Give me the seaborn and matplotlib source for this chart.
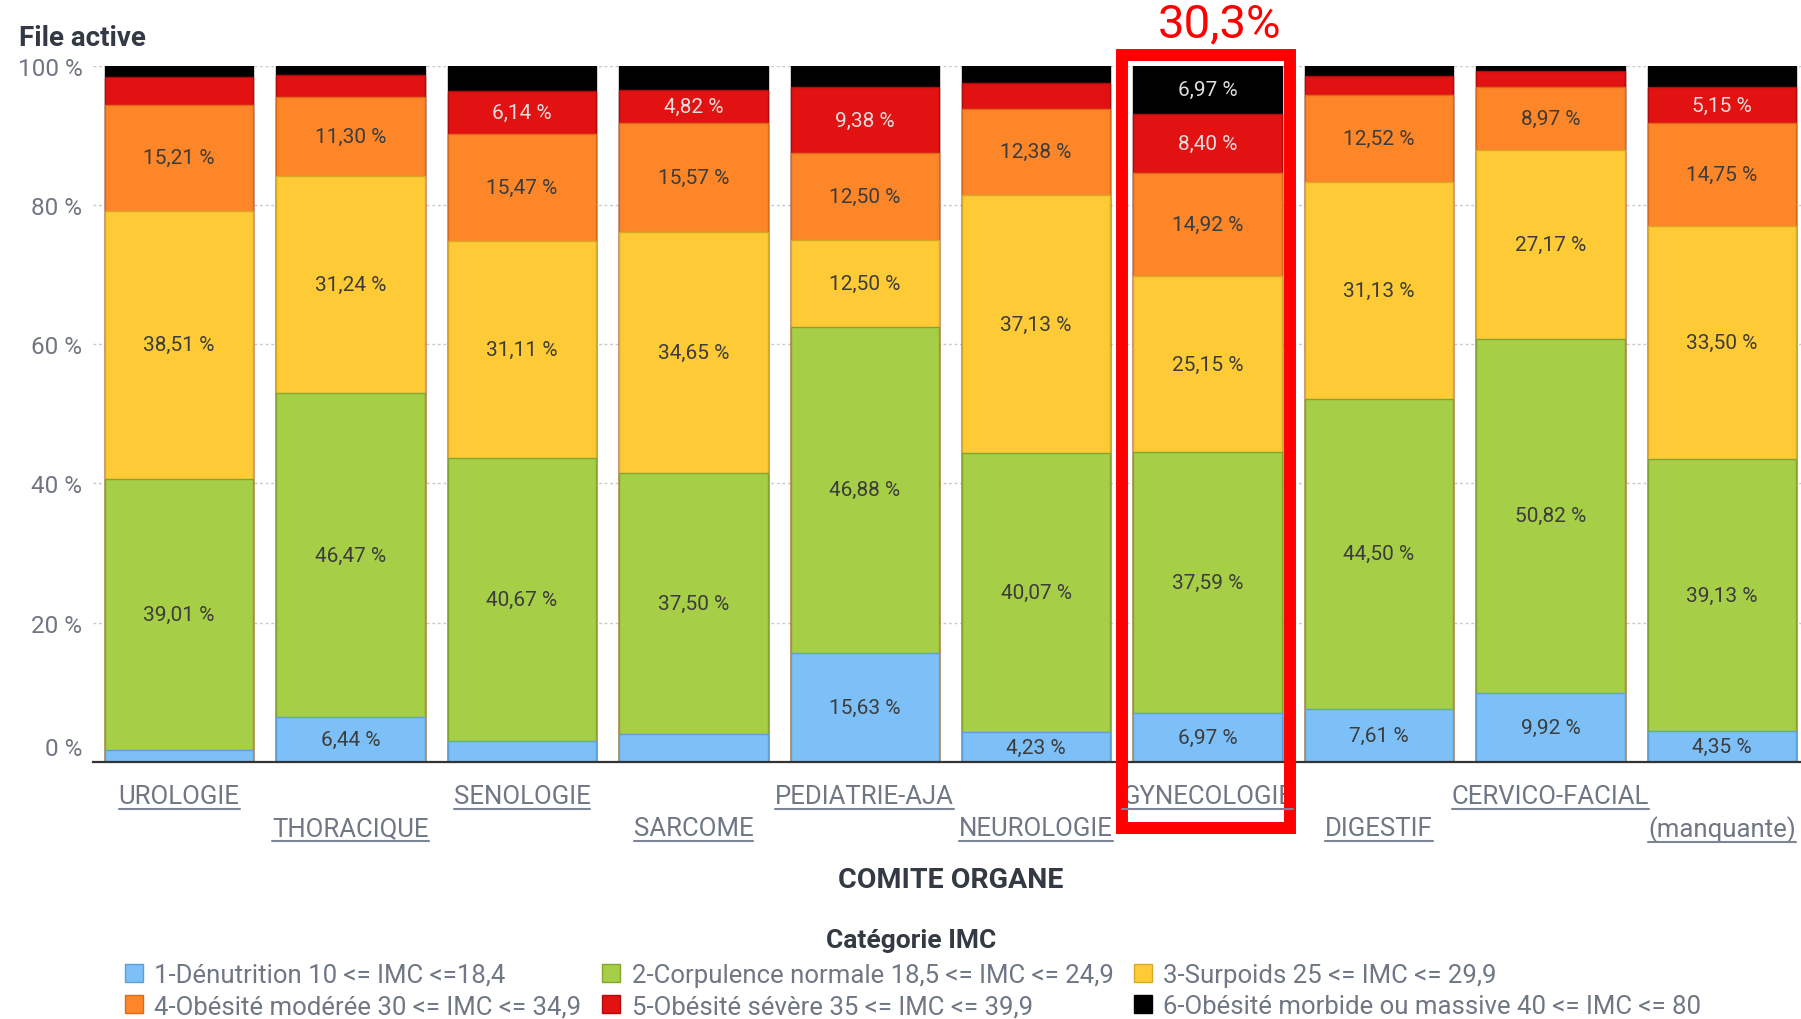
import numpy as np
import pandas as pd
import seaborn as sns
import matplotlib.pyplot as plt
from matplotlib.patches import Patch, Rectangle
from matplotlib.lines import Line2D
from matplotlib.transforms import IdentityTransform, ScaledTranslation

# Values (% of patients per BMI category, per organ committee)
categories = ["UROLOGIE", "THORACIQUE", "SENOLOGIE", "SARCOME", "PEDIATRIE-AJA",
              "NEUROLOGIE", "GYNECOLOGIE", "DIGESTIF", "CERVICO-FACIAL", "(manquante)"]
denutrition = [1.63, 6.44, 2.99, 3.98, 15.63, 4.23, 6.97, 7.61, 9.92, 4.35]
corpulence = [39.01, 46.47, 40.67, 37.50, 46.88, 40.07, 37.59, 44.50, 50.82, 39.13]
surpoids = [38.51, 31.24, 31.11, 34.65, 12.50, 37.13, 25.15, 31.13, 27.17, 33.50]
obesite_moderee = [15.21, 11.30, 15.47, 15.57, 12.50, 12.38, 14.92, 12.52, 8.97, 14.75]
obesite_severe = [3.97, 3.25, 6.14, 4.82, 9.38, 3.75, 8.40, 2.74, 2.31, 5.15]
obesite_morbide = [1.67, 1.30, 3.62, 3.48, 3.12, 2.44, 6.97, 1.50, 0.81, 3.12]

legend_labels = ["1-Dénutrition 10 <= IMC <=18,4",
                 "2-Corpulence normale 18,5 <= IMC <= 24,9",
                 "3-Surpoids 25 <= IMC <= 29,9",
                 "4-Obésité modérée 30 <= IMC <= 34,9",
                 "5-Obésité sévère 35 <= IMC <= 39,9",
                 "6-Obésité morbide ou massive 40 <= IMC <= 80"]
fills = ["#7dc0f8", "#a6ce47", "#fecb36", "#fd8628", "#e31212", "#000000"]
edges = ["#5d9fd8", "#80a630", "#d8a827", "#d86a1a", "#b00c0c", "#000000"]
text_cols = ["#3c3c3c", "#3c3c3c", "#3c3c3c", "#3c3c3c", "#dedede", "#dedede"]

series = [denutrition, corpulence, surpoids, obesite_moderee, obesite_severe, obesite_morbide]

sns.set_style("white")
plt.rcParams['font.family'] = ['Roboto', 'DejaVu Sans']

fig = plt.figure(figsize=(18.01, 10.2), dpi=100)
ax = fig.add_axes([0.0519, 0.2522, 0.9517, 0.6825])

vals = np.array(series)
cum = np.cumsum(vals, axis=0)

# stacked bars: draw cumulative totals from the top layer down
for k in reversed(range(len(series))):
    df = pd.DataFrame({"comite": categories, "pct": cum[k]})
    sns.barplot(data=df, x="comite", y="pct", order=categories, color=fills[k],
                saturation=1, width=0.865, edgecolor=edges[k], linewidth=1,
                errorbar=None, ax=ax, zorder=2)

# value labels
for k in range(len(series)):
    for i, v in enumerate(series[k]):
        if v >= 4.2:
            ax.text(i, cum[k][i] - v / 2, f"{v:.2f}".replace(".", ",") + " %",
                    ha="center", va="center", fontsize=15, color=text_cols[k], zorder=5)

ax.set_xlim(-0.5, 9.5)
ax.set_ylim(0, 100)
ax.set_yticks([0, 20, 40, 60, 80, 100])
ax.set_yticklabels(["0 %", "20 %", "40 %", "60 %", "80 %", "100 %"])
ax.yaxis.grid(True, color="#c8c8c8", linestyle=(0, (2, 2)), linewidth=1)
ax.set_axisbelow(True)
ax.tick_params(axis="y", length=0, pad=8, labelsize=17.5, labelcolor="#6f7682")
ax.tick_params(axis="x", length=9, width=1.3, color="#333333", labelbottom=False)
ax.set_xticks(range(len(categories)))
for s in ["top", "left", "right"]:
    ax.spines[s].set_visible(False)
ax.spines["bottom"].set_color("#333333")
ax.spines["bottom"].set_linewidth(1.6)
ax.set_xlabel("")
ax.set_ylabel("")

# push the "0 %" label up a little
lab0 = ax.get_yticklabels()[0]
lab0.set_transform(lab0.get_transform() + ScaledTranslation(0, 11 / 72, fig.dpi_scale_trans))

# staggered, underlined category labels
cat_texts = []
for i, c in enumerate(categories):
    off = -25 if i % 2 == 0 else -48
    t = ax.annotate(c, xy=(i, 0), xycoords=("data", "axes fraction"),
                    xytext=(0, off), textcoords="offset points",
                    ha="center", va="center", fontsize=18.5, color="#6f7785",
                    annotation_clip=False)
    cat_texts.append(t)

fig.text(950.5 / 1801, 1 - 880 / 1020, "COMITE ORGANE", ha="center", va="center",
         fontsize=20.5, fontweight="bold", color="#333a44")
fig.text(19 / 1801, 1 - 38 / 1020, "File active", ha="left", va="center",
         fontsize=20, fontweight="bold", color="#333a44")

# highlight box and annotation
ax.add_patch(Rectangle((5.5, -9.5), 0.98, 111, fill=False, edgecolor="#ff0000",
                       linewidth=8.6, clip_on=False, zorder=10))
fig.text(1220 / 1801, 1 - 24 / 1020, "30,3%", ha="center", va="center",
         fontsize=34, color="#ff0000")

# legend, row-wise order in 3 columns
fig.text(911 / 1801, 1 - 941 / 1020, "Catégorie IMC", ha="center", va="center",
         fontsize=19, fontweight="bold", color="#333a44")
handles = [Patch(facecolor=fills[k], edgecolor=edges[k], label=legend_labels[k])
           for k in range(6)]
order = [0, 3, 1, 4, 2, 5]
leg = fig.legend([handles[k] for k in order], [legend_labels[k] for k in order],
                 ncol=3, loc="upper center", bbox_to_anchor=(0.507, 1 - 951 / 1020),
                 frameon=False, fontsize=18.5, labelcolor="#6f7785",
                 handlelength=0.7, handleheight=0.7, handletextpad=0.45,
                 columnspacing=0.8, labelspacing=0.28, borderpad=0)

# underline the category labels
fig.canvas.draw()
renderer = fig.canvas.get_renderer()
for t in cat_texts:
    bb = t.get_window_extent(renderer)
    fig.add_artist(Line2D([bb.x0, bb.x1], [bb.y0 - 0.5, bb.y0 - 0.5],
                          transform=IdentityTransform(), color="#7c8594", linewidth=1.5))

plt.savefig("out.png", dpi=100)
